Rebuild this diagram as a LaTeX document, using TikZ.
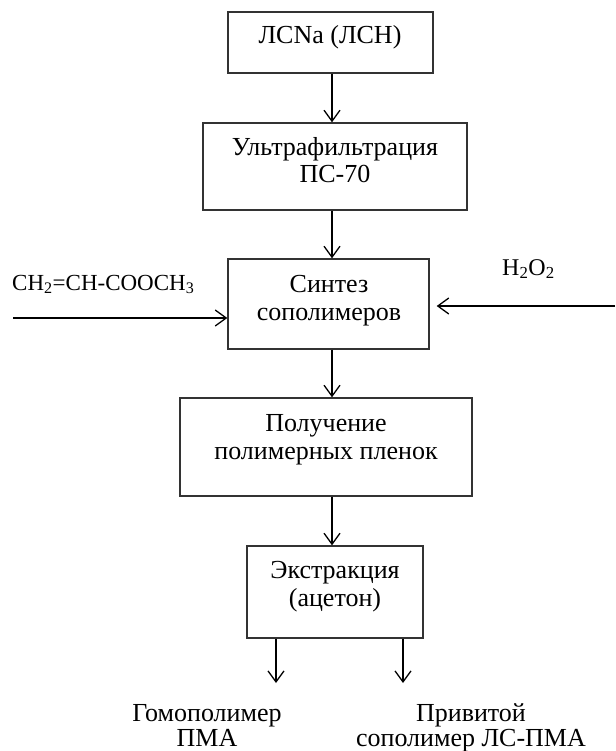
\documentclass[tikz,border=0pt]{standalone}
\usepackage{fontspec}
\setmainfont{Liberation Serif}
\usetikzlibrary{arrows.meta,calc}
\begin{document}
\begin{tikzpicture}[x=1pt,y=1pt,
  stagebox/.style={draw=black!80,line width=1.4pt,inner sep=0pt,minimum width=#1},
  lbl/.style={font=\fontsize{26}{27.8}\selectfont,inner sep=0pt,align=center,anchor=base},
  formula/.style={inner sep=0pt,anchor=base west},
  arr/.style={line width=1.3pt,-{Straight Barb[length=11pt,width=16pt,line width=1.3pt]}}]
\useasboundingbox (0,0) rectangle (615,-751);
% boxes
\node[stagebox=205pt,minimum height=61pt] (b1) at (330.5,-42.5) {};
\node[stagebox=264pt,minimum height=87pt] (b2) at (335,-166.5) {};
\node[stagebox=201pt,minimum height=90pt] (b3) at (328.5,-304) {};
\node[stagebox=292pt,minimum height=98pt] (b4) at (326,-447) {};
\node[stagebox=176pt,minimum height=92pt] (b5) at (335,-592) {};
% texts (anchor = baseline of last line)
\node[lbl] (t1) at (330,-44) {ЛСNa (ЛСН)};
\node[lbl] (t2) at (335,-183) {Ультрафильтрация\\ПС-70};
\node[lbl] (t3) at (329,-320) {Синтез\\сополимеров};
\node[lbl] (t4) at (326,-459) {Получение\\полимерных пленок};
\node[lbl] (t5) at (335,-606) {Экстракция\\(ацетон)};
\node[formula,font=\fontsize{23}{27}\selectfont] (ch) at (12,-290) {CH\textsubscript{2}=CH-COOCH\textsubscript{3}};
\node[formula,font=\fontsize{24}{27}\selectfont] (hp) at (502,-275) {H\textsubscript{2}O\textsubscript{2}};
\node[lbl,font=\fontsize{26}{24.5}\selectfont] (o1) at (207,-746) {Гомополимер\\ПМА};
\node[lbl,font=\fontsize{26}{24.5}\selectfont] (o2) at (471,-746) {Привитой\\сополимер ЛС-ПМА};
% coordinates
\coordinate (ax) at (332,0);
\coordinate (l0) at (13,-318);
\coordinate (r0) at (615,-306);
\coordinate (e1) at (276,-683);
\coordinate (e2) at (403,-683);
% connectors
\draw[arr] (b1.south -| ax) -- (b2.north -| ax);
\draw[arr] (b2.south -| ax) -- (b3.north -| ax);
\draw[arr] (b3.south -| ax) -- (b4.north -| ax);
\draw[arr] (b4.south -| ax) -- (b5.north -| ax);
\draw[arr] (l0) -- (l0 -| b3.west);
\draw[arr,shorten >=7pt] (r0) -- (r0 -| b3.east);
\draw[arr] (e1 |- b5.south) -- (e1);
\draw[arr] (e2 |- b5.south) -- (e2);
\end{tikzpicture}
\end{document}
